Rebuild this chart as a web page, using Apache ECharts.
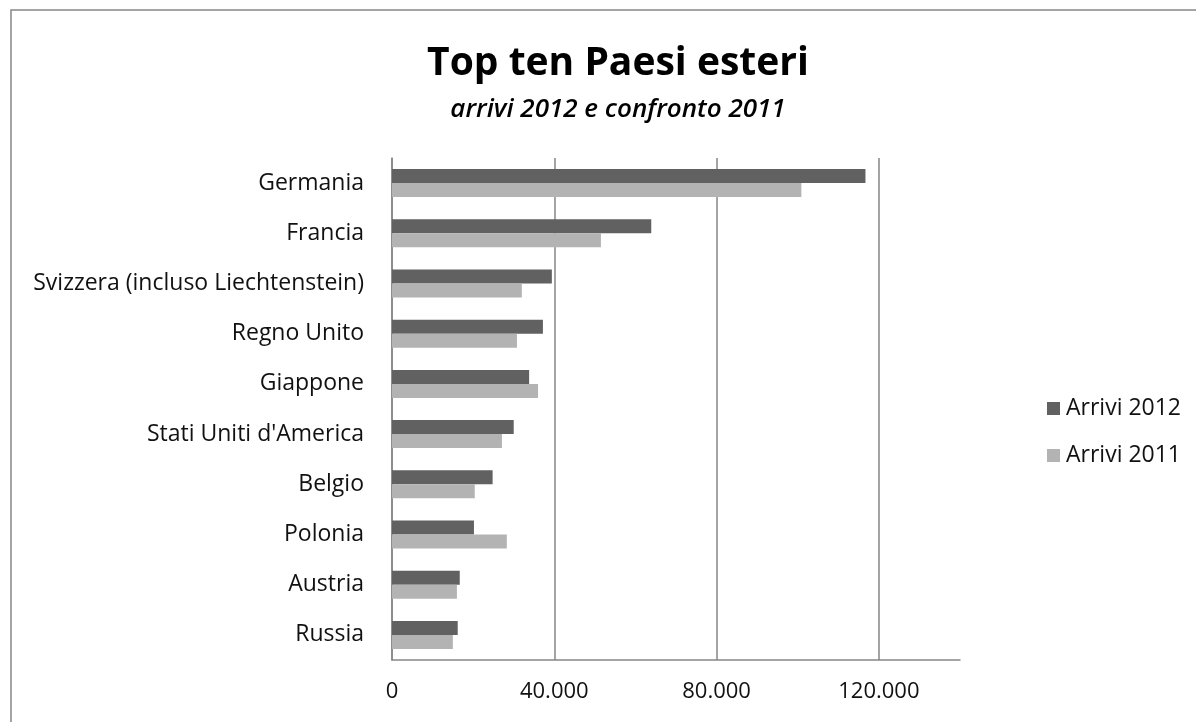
<!DOCTYPE html>
<html>
<head>
<meta charset="utf-8">
<script src="https://cdn.jsdelivr.net/npm/echarts@6/dist/echarts.min.js"></script>
<style>
html,body{margin:0;padding:0;background:#fff;}
#chart{width:1196px;height:722px;}
</style>
</head>
<body>
<div id="chart"></div>
<script>
const categories = ['Germania','Francia','Svizzera (incluso Liechtenstein)','Regno Unito','Giappone',"Stati Uniti d'America",'Belgio','Polonia','Austria','Russia'];
const arrivi2012 = [116700, 63900, 39400, 37200, 33800, 30000, 24800, 20200, 16700, 16200];
const arrivi2011 = [100900, 51500, 32000, 30800, 36000, 27100, 20400, 28300, 16000, 15000];
const xTicks = [0, 40000, 80000, 120000];
const seriesNames = ['Arrivi 2012', 'Arrivi 2011'];

const FONT = '"Open Sans", "Noto Sans", sans-serif';
const chart = echarts.init(document.getElementById('chart'), null, {renderer: 'canvas'});
chart.setOption({
  animation: false,
  backgroundColor: '#fff',
  title: [
    {text: 'Top ten Paesi esteri', left: 613, top: 39, textAlign: 'center',
     textStyle: {fontFamily: FONT, fontSize: 39, fontWeight: 'bold', color: '#000'}},
    {text: 'arrivi 2012 e confronto 2011', left: 613, top: 92, textAlign: 'center',
     textStyle: {fontFamily: FONT, fontSize: 26, fontWeight: 600, fontStyle: 'italic', color: '#000'}}
  ],
  legend: {
    orient: 'vertical', left: 1042, top: 392, itemWidth: 13, itemHeight: 13, itemGap: 24,
    icon: 'rect', data: seriesNames,
    textStyle: {fontFamily: FONT, fontSize: 23, color: '#111', padding: [0,0,0,1]}
  },
  grid: {left: 392, right: 236, top: 158, bottom: 62, containLabel: false},
  xAxis: {
    type: 'value', min: 0, max: 140000, interval: 40000,
    axisLine: {show: true, lineStyle: {color: '#868686', width: 1.5}},
    axisTick: {show: false},
    axisLabel: {
      fontFamily: FONT, fontSize: 22, color: '#111', margin: 21, showMaxLabel: false,
      formatter: v => xTicks.includes(v) ? (v === 0 ? '0' : (v/1000) + '.000') : ''
    },
    splitLine: {show: true, lineStyle: {color: ['#868686','#868686','#868686','#868686','rgba(0,0,0,0)'], width: 1.5}}
  },
  yAxis: {
    type: 'category', data: categories, inverse: true,
    axisLine: {show: true, lineStyle: {color: '#868686', width: 1.5}},
    axisTick: {show: false},
    axisLabel: {fontFamily: FONT, fontSize: 23, color: '#111', margin: 28}
  },
  series: [
    {name: seriesNames[0], type: 'bar', data: arrivi2012, barWidth: 14, barGap: '0%',
     itemStyle: {color: '#616161'}},
    {name: seriesNames[1], type: 'bar', data: arrivi2011, barWidth: 14, barGap: '0%',
     itemStyle: {color: '#b3b3b3'}}
  ],
  graphic: [{
    type: 'rect', shape: {x: 11, y: 10, width: 1200, height: 730},
    style: {fill: 'none', stroke: '#868686', lineWidth: 1.5}, silent: true, z: 100
  }]
});
</script>
</body>
</html>
